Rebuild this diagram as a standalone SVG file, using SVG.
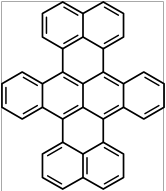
<svg xmlns="http://www.w3.org/2000/svg" width="166" height="191" viewBox="0 0 166 191">
<style>
.frame{fill:none;stroke:#a8a8a8;stroke-width:1}
.bond{fill:none;stroke:#000;stroke-width:1.7;stroke-linejoin:round;stroke-linecap:round}
.inner{fill:none;stroke:#000;stroke-width:1.5;stroke-linecap:round}
</style>
<rect width="166" height="191" fill="#fff"/>
<path class="frame" d="M1.5,191 V1.5 H163.5 V191"/>
<g id="ring-top-left">
<path class="bond" d="M62.73,1.9 L83,13.6 L83,37 L62.73,48.7 L42.47,37 L42.47,13.6 Z"/>
<path class="inner" d="M63.93,7.21 L77.79,15.21 M77.79,35.39 L63.93,43.39 M46.46,33.3 L46.46,17.3"/>
</g>
<g id="ring-top-right">
<path class="bond" d="M83,13.6 L103.27,1.9 L123.53,13.6 L123.53,37 L103.27,48.7 L83,37"/>
<path class="inner" d="M104.47,7.21 L118.33,15.21 M118.33,35.39 L104.47,43.39"/>
</g>
<g id="ring-left">
<path class="bond" d="M22.21,72.1 L42.47,83.8 L42.47,107.2 L22.21,118.9 L1.94,107.2 L1.94,83.8 Z"/>
<path class="inner" d="M23.41,77.41 L37.27,85.41 M37.27,105.59 L23.41,113.59 M5.94,103.5 L5.94,87.5"/>
</g>
<g id="ring-center-left">
<path class="bond" d="M42.47,83.8 L62.73,72.1 L83,83.8 L83,107.2 L62.73,118.9 L42.47,107.2"/>
<path class="inner" d="M63.93,77.41 L77.79,85.41 M77.79,105.59 L63.93,113.59"/>
</g>
<g id="ring-center-right">
<path class="bond" d="M83,83.8 L103.27,72.1 L123.53,83.8 L123.53,107.2 L103.27,118.9 L83,107.2"/>
<path class="inner" d="M104.47,77.41 L118.33,85.41 M118.33,105.59 L104.47,113.59"/>
</g>
<g id="ring-right">
<path class="bond" d="M123.53,83.8 L143.8,72.1 L164.06,83.8 L164.06,107.2 L143.8,118.9 L123.53,107.2"/>
<path class="inner" d="M145,77.41 L158.86,85.41 M158.86,105.59 L145,113.59"/>
</g>
<g id="ring-bottom-left">
<path class="bond" d="M62.73,142.3 L83,154 L83,177.4 L62.73,189.1 L42.47,177.4 L42.47,154 Z"/>
<path class="inner" d="M47.67,155.61 L61.53,147.61 M61.53,183.79 L47.67,175.79"/>
</g>
<g id="ring-bottom-right">
<path class="bond" d="M83,154 L103.27,142.3 L123.53,154 L123.53,177.4 L103.27,189.1 L83,177.4"/>
<path class="inner" d="M87,157.7 L87,173.7 M104.47,147.61 L118.33,155.61 M118.33,175.79 L104.47,183.79"/>
</g>
<g id="connectors">
<path class="bond" d="M62.73,48.7 V72.1 M103.27,48.7 V72.1 M62.73,118.9 V142.3 M103.27,118.9 V142.3"/>
</g>
</svg>
